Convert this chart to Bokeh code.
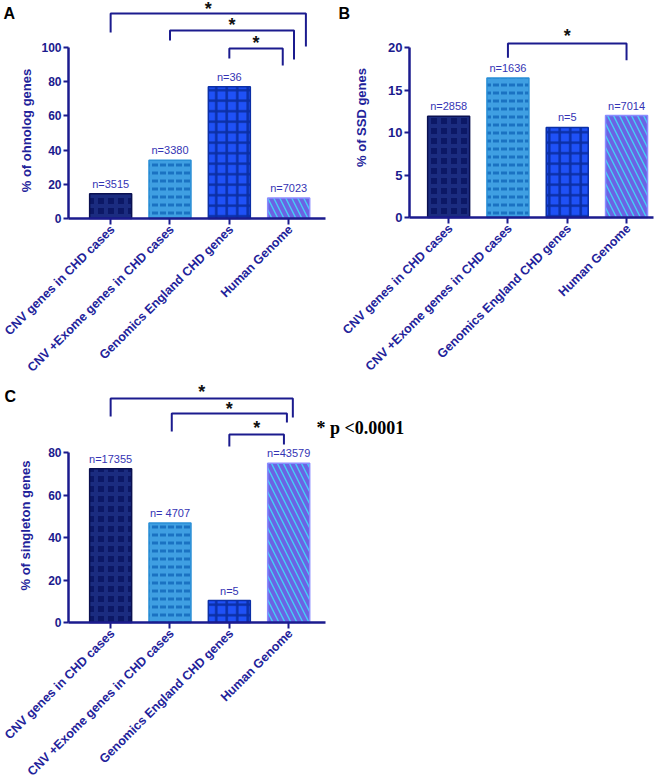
from math import pi
from bokeh.plotting import figure
from bokeh.layouts import column, row
from bokeh.models import Range1d, FixedTicker, Label, ColumnDataSource
from bokeh.embed import file_html
from bokeh.resources import INLINE
from bokeh.core.properties import value

# ---------------- data ----------------
categories = ["CNV genes in CHD cases", "CNV +Exome genes in CHD cases",
              "Genomics England CHD genes", "Human Genome"]
positions = [1, 2, 3, 4]

ohnolog_pct = [14.5, 34.0, 77.0, 12.0]
ohnolog_n = ["n=3515", "n=3380", "n=36", "n=7023"]

ssd_pct = [11.9, 16.4, 10.6, 12.0]
ssd_n = ["n=2858", "n=1636", "n=5", "n=7014"]

singleton_pct = [72.3, 46.8, 10.3, 75.0]
singleton_n = ["n=17355", "n= 4707", "n=5", "n=43579"]

ohnolog_ticks = [0, 20, 40, 60, 80, 100]
ssd_ticks = [0, 5, 10, 15, 20]
singleton_ticks = [0, 20, 40, 60, 80]

# significance brackets: (left x, right x, bar y, left-end y, right-end y, star y)
ohnolog_brackets = [(1.0, 4.29, 119.9, 108.8, 100.6, 122.8),
                    (2.0, 4.09, 109.9, 104.1, 93.0, 112.9),
                    (3.0, 3.90, 99.4, 93.6, 89.5, 102.9)]
ssd_brackets = [(2.0, 4.0, 20.47, 18.8, 18.5, 21.3)]
singleton_brackets = [(1.0, 4.07, 105.4, 96.9, 96.5, 108.7),
                      (2.03, 3.97, 98.4, 89.9, 94.1, 100.7),
                      (3.0, 3.92, 88.5, 82.8, 83.8, 91.3)]

# ---------------- style ----------------
AXIS = "#1b1b8e"
TEXT = "#22229a"
NTEXT = "#3434b4"
FONT = "Liberation Sans"

bar_fill = ["#0c1866", "#3f9fe2", "#1f51f7", "#44d0f5"]
bar_line = ["#0a1050", "#2a8fd6", "#0b2fa6", "#8a8cff"]
bar_hatch = ["cross", "horizontal_dash", "cross", "left_diagonal_line"]
bar_hatch_color = ["#1b2c80", "#1a72c2", "#0b2fa6", "#6b63e3"]
bar_hatch_scale = [10, 8, 10.5, 12]
bar_hatch_weight = [4, 3, 2.5, 4]


def panel(W, H, ox, oy, ppx, ppy, x0, x1, pct, ns, yticks, brackets,
          ylabel, ylabel_px, letter, letter_px, tick_size):
    xr = Range1d(x0 - ox / ppx, x0 + (W - ox) / ppx)
    yr = Range1d(-(H - oy) / ppy, oy / ppy)
    p = figure(width=W, height=H, title=None, x_range=xr, y_range=yr,
               output_backend="svg", toolbar_location=None, min_border=0)
    p.outline_line_color = None
    p.grid.visible = False

    def to_data(fx, fy):
        return x0 + (fx - ox) / ppx, (oy - fy) / ppy

    src = ColumnDataSource(dict(x=positions, top=pct, fill=bar_fill, line=bar_line,
                                hatch=bar_hatch, hcolor=bar_hatch_color,
                                hscale=bar_hatch_scale, hweight=bar_hatch_weight))
    p.vbar(x="x", top="top", bottom=0, width=42 / ppx, source=src,
           fill_color="fill", line_color="line", line_width=1.5,
           hatch_pattern="hatch", hatch_color="hcolor",
           hatch_scale="hscale", hatch_weight="hweight")

    # n= labels above bars
    p.text(x=positions, y=[v + 4 / ppy for v in pct], text=ns,
           text_align="center", text_baseline="bottom",
           text_font=value(FONT), text_font_size="11px", text_color=NTEXT)

    # significance brackets and stars
    for (xl, xr_, yb, yl, yr_, ys) in brackets:
        p.line(x=[xl, xl, xr_, xr_], y=[yl, yb, yb, yr_], line_color=AXIS, line_width=2)
        p.text(x=[(xl + xr_) / 2], y=[ys], text=["*"], text_align="center",
               text_baseline="middle", text_font=value(FONT), text_font_style="bold",
               text_font_size="18px", text_color="#111111")

    # category labels, rotated, hanging from each tick
    p.text(x=[c - 3 / ppx for c in positions], y=[-4 / ppy] * len(positions),
           text=categories, angle=pi / 4, text_align="right", text_baseline="top",
           text_font=value(FONT), text_font_style="bold", text_font_size="12.5px",
           text_color=TEXT)

    # axes
    xa = p.xaxis[0]
    xa.fixed_location = 0
    xa.ticker = FixedTicker(ticks=positions)
    xa.major_label_text_color = None
    xa.bounds = (x0, x1)
    xa.axis_line_width = 2.5
    xa.axis_line_color = AXIS
    xa.major_tick_line_color = AXIS
    xa.major_tick_line_width = 2
    xa.major_tick_in = 0
    xa.major_tick_out = 6
    xa.minor_tick_line_color = None

    ya = p.yaxis[0]
    ya.fixed_location = x0
    ya.ticker = FixedTicker(ticks=yticks)
    ya.bounds = (0, yticks[-1])
    ya.axis_line_width = 2.5
    ya.axis_line_color = AXIS
    ya.major_tick_line_color = AXIS
    ya.major_tick_line_width = 2
    ya.major_tick_in = 0
    ya.major_tick_out = 5
    ya.minor_tick_line_color = None
    ya.major_label_standoff = 2
    ya.major_label_text_font = FONT
    ya.major_label_text_font_style = "bold"
    ya.major_label_text_font_size = tick_size
    ya.major_label_text_color = AXIS

    lx, ly = to_data(*ylabel_px)
    p.add_layout(Label(x=lx, y=ly, text=ylabel, angle=pi / 2, text_align="center",
                       text_baseline="middle", text_font=FONT, text_font_style="bold",
                       text_font_size="13px", text_color=TEXT))
    gx, gy = to_data(*letter_px)
    p.add_layout(Label(x=gx, y=gy, text=letter, text_align="left", text_baseline="top",
                       text_font=FONT, text_font_style="bold", text_font_size="16px",
                       text_color="black"))
    return p, to_data


pA, _ = panel(333, 378, 68, 218, 59.35, 1.71, 0.29, 4.62,
              ohnolog_pct, ohnolog_n, ohnolog_ticks, ohnolog_brackets,
              "% of ohnolog genes", (26, 130), "A", (3, 4), "12px")

pB, _ = panel(333, 378, 76, 217, 59.3, 8.5, 0.34, 4.455,
              ssd_pct, ssd_n, ssd_ticks, ssd_brackets,
              "% of SSD genes", (28, 117), "B", (5, 4), "13px")

pC, toC = panel(666, 404, 68, 244, 59.35, 2.125, 0.29, 4.62,
                singleton_pct, singleton_n, singleton_ticks, singleton_brackets,
                "% of singleton genes", (25, 147), "C", (4, 9), "12px")

px_, py_ = toC(316, 49)
pC.add_layout(Label(x=px_, y=py_, text="*  p <0.0001", text_align="left",
                    text_baseline="middle", text_font="Liberation Serif",
                    text_font_style="bold", text_font_size="18px", text_color="black"))

layout = column(row(pA, pB), pC)
open("out.html", "w").write(file_html(layout, INLINE))
